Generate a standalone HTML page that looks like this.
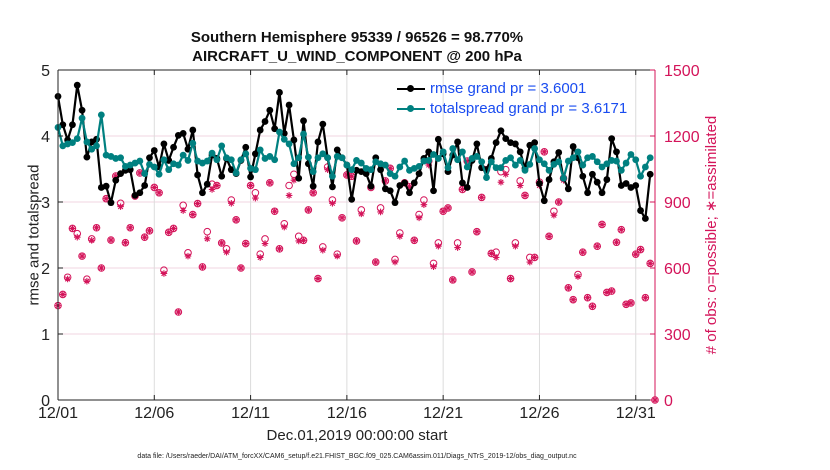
<!DOCTYPE html>
<html><head><meta charset="utf-8"><style>
body{margin:0;background:#fff;}
svg{display:block;font-family:"Liberation Sans",sans-serif;}
</style></head><body>
<svg id="chart" width="830" height="470"></svg>
<script>
const rmse=[4.6,4.17,3.94,4.17,4.77,4.39,3.68,3.91,3.95,3.22,3.24,2.99,3.33,3.43,3.48,3.49,3.1,3.14,3.25,3.67,3.78,3.53,3.88,3.63,3.83,4.01,4.04,3.8,4.09,3.41,3.14,3.27,
3.71,3.66,3.39,3.66,3.49,3.43,3.63,3.83,3.38,3.73,4.09,4.22,4.39,4.11,4.66,4.04,4.47,3.94,3.36,4.23,3.58,3.24,3.91,4.18,3.67,3.23,3.79,3.67,3.56,3.04,3.48,
3.46,3.43,3.24,3.67,3.49,3.2,3.17,2.99,3.25,3.29,3.14,3.29,3.43,3.66,3.76,3.17,3.95,3.73,3.46,3.71,3.91,3.29,3.22,3.63,3.88,3.52,3.49,3.66,3.9,4.08,3.96,
3.9,3.88,3.76,3.51,3.86,3.9,3.28,3.02,3.34,3.61,3.75,3.36,3.2,3.84,3.67,3.39,3.14,3.42,3.3,3.14,3.34,3.96,3.76,3.25,3.28,3.22,3.25,2.87,2.75,3.42];
const spread=[4.13,3.85,3.88,3.9,3.96,4.27,3.91,3.8,3.85,4.32,3.71,3.69,3.66,3.67,3.54,3.56,3.59,3.62,3.43,3.57,3.53,3.42,3.64,3.49,3.58,3.56,3.71,3.63,3.89,3.62,3.59,3.62,
3.74,3.64,3.85,3.67,3.64,3.44,3.64,3.73,3.51,3.49,3.79,3.66,3.69,3.64,4.06,3.95,3.88,3.58,3.67,4.03,3.68,3.46,3.67,3.73,3.67,3.39,3.69,3.67,3.56,3.49,3.63,
3.59,3.51,3.49,3.61,3.58,3.56,3.43,3.39,3.53,3.62,3.48,3.51,3.54,3.62,3.63,3.72,3.66,3.76,3.52,3.81,3.64,3.76,3.53,3.66,3.69,3.61,3.37,3.61,3.52,3.52,3.63,
3.67,3.56,3.63,3.48,3.57,3.81,3.64,3.58,3.48,3.57,3.61,3.36,3.62,3.67,3.76,3.56,3.67,3.69,3.61,3.53,3.58,3.63,3.62,3.48,3.59,3.72,3.64,3.39,3.53,3.67];
const possible=[429,480,558,780,756,654,549,732,783,600,915,727,1018,894,715,783,927,1032,740,769,966,942,590,762,780,400,885,669,843,893,605,765,
981,975,714,687,909,819,600,711,975,942,663,732,987,858,687,801,975,1026,744,726,864,942,552,696,1059,909,663,828,1023,1017,723,
864,1044,966,627,873,996,1053,639,759,987,969,726,843,909,1086,621,714,858,873,546,714,957,1086,582,765,921,1047,666,672,1038,1047,
552,714,996,930,648,648,990,1128,744,858,900,1008,510,456,570,672,465,426,699,798,489,495,717,774,435,441,663,684,465,621,0];
const assimilated=[429,480,550,780,740,654,540,726,783,600,915,727,1018,879,715,783,927,1032,740,769,966,942,575,762,780,400,861,654,843,893,605,733,
957,975,714,672,894,819,600,711,975,918,648,711,987,858,687,786,930,999,723,726,864,942,552,681,1047,894,654,828,1023,1017,723,
846,1044,966,627,855,996,1053,627,744,987,969,726,828,888,1068,606,699,858,873,546,693,957,1086,582,765,921,1047,666,648,990,1026,
552,699,975,930,627,648,975,1128,744,840,900,999,510,456,561,672,465,426,699,798,489,495,717,774,435,441,663,684,465,621,0];
const dateLabels=['12/01','12/06','12/11','12/16','12/21','12/26','12/31'];
const dateDays=[0,5,10,15,20,25,30];
const leftTicks=[0,1,2,3,4,5];
const rightTicks=[0,300,600,900,1200,1500];

const X0=58,X1=655,Y0=400,Y1=70,NDAYS=31;
const PINK='#d4145a';
const xd=d=>X0+(X1-X0)*d/NDAYS;
const xi=i=>xd(i*0.25);
const yL=v=>Y0-(Y0-Y1)*v/5;
const yR=v=>Y0-(Y0-Y1)*v/1500;
const svg=document.getElementById('chart');
const NS='http://www.w3.org/2000/svg';
function mk(tag,attrs,parent){const e=document.createElementNS(NS,tag);for(const k in attrs)e.setAttribute(k,attrs[k]);(parent||svg).appendChild(e);return e;}

// gridlines
leftTicks.forEach(t=>{if(t>0&&t<5){const g=mk('line',{x1:X0,x2:X1,y1:yL(t),y2:yL(t),stroke:'#f0d6e0','stroke-width':1});

}});
dateDays.forEach(d=>{if(d>0){const g=mk('line',{x1:xd(d),x2:xd(d),y1:Y1,y2:Y0,stroke:'#dcdcdc','stroke-width':1});

}});

// obs markers
const obsG=mk('g',{});


possible.forEach((v,i)=>{const c=mk('circle',{cx:xi(i),cy:yR(v),r:3.3,fill:'none',stroke:PINK,'stroke-width':1},obsG);

});
assimilated.forEach((v,i)=>{const x=xi(i),y=yR(v),r=3.3;
const p=mk('path',{d:`M${x-r} ${y}H${x+r}M${x} ${y-r}V${y+r}M${x-r*.7} ${y-r*.7}L${x+r*.7} ${y+r*.7}M${x-r*.7} ${y+r*.7}L${x+r*.7} ${y-r*.7}`,stroke:PINK,'stroke-width':1.1,fill:'none'},obsG);

});

function series(vals,color,name){
const g=mk('g',{});


mk('polyline',{points:vals.map((v,i)=>xi(i)+','+yL(v)).join(' '),fill:'none',stroke:color,'stroke-width':2.2,'stroke-linejoin':'round'},g);
vals.forEach((v,i)=>{const c=mk('circle',{cx:xi(i),cy:yL(v),r:3.4,fill:color},g);

});}
series(rmse,'#000','rmse-line');
series(spread,'#008080','totalspread-line');

// axes
mk('line',{x1:X0,x2:X1,y1:Y1,y2:Y1,stroke:'#222','stroke-width':1});
mk('line',{x1:X0,x2:X1,y1:Y0,y2:Y0,stroke:'#222','stroke-width':1});
mk('line',{x1:X0,x2:X0,y1:Y1,y2:Y0,stroke:'#222','stroke-width':1});
mk('line',{x1:X1,x2:X1,y1:Y1,y2:Y0,stroke:PINK,'stroke-width':1});
leftTicks.forEach(t=>{mk('line',{x1:X0,x2:X0+5,y1:yL(t),y2:yL(t),stroke:'#222'});
const tx=mk('text',{x:X0-8,y:yL(t)+6,'text-anchor':'end','font-size':16,fill:'#222'});tx.textContent=t;

});
rightTicks.forEach(t=>{mk('line',{x1:X1-5,x2:X1,y1:yR(t),y2:yR(t),stroke:PINK});
const tx=mk('text',{x:X1+9,y:yR(t)+6,'font-size':16,fill:PINK});tx.textContent=t;

});
dateDays.forEach((d,k)=>{mk('line',{x1:xd(d),x2:xd(d),y1:Y0,y2:Y0-5,stroke:'#222'});mk('line',{x1:xd(d),x2:xd(d),y1:Y1,y2:Y1+5,stroke:'#222'});
const tx=mk('text',{x:xd(d),y:418,'text-anchor':'middle','font-size':16,fill:'#222'});tx.textContent=dateLabels[k];

});
</script>
<svg width="0" height="0"></svg>
<div style="position:absolute;left:0;top:0;width:830px;height:470px;pointer-events:none;font-family:'Liberation Sans',sans-serif;">
<div style="position:absolute;left:0;width:714px;top:28px;text-align:center;font-weight:bold;font-size:15px;line-height:19px;color:#111;">Southern Hemisphere 95339 / 96526 = 98.770%<br>AIRCRAFT_U_WIND_COMPONENT @ 200 hPa</div>
<div style="position:absolute;left:395px;top:79px;font-size:15px;color:#1a4cf0;line-height:20px;">
<div style="position:relative;padding-left:35px;"><span style="position:absolute;left:2px;top:9px;width:28px;height:2px;background:#000"></span><span style="position:absolute;left:12px;top:6px;width:7px;height:7px;border-radius:50%;background:#000"></span>rmse grand pr = 3.6001</div>
<div style="position:relative;padding-left:35px;"><span style="position:absolute;left:2px;top:9px;width:28px;height:2px;background:#008080"></span><span style="position:absolute;left:12px;top:6px;width:7px;height:7px;border-radius:50%;background:#008080"></span>totalspread grand pr = 3.6171</div>
</div>
<div style="position:absolute;left:34px;top:235px;transform:translate(-50%,-50%) rotate(-90deg);white-space:nowrap;font-size:15px;color:#222;">rmse and totalspread</div>
<div style="position:absolute;left:711px;top:235px;transform:translate(-50%,-50%) rotate(-90deg);white-space:nowrap;font-size:15px;color:#d4145a;"># of obs: o=possible; &#8727;=assimilated</div>
<div style="position:absolute;left:0;width:714px;top:427px;text-align:center;font-size:15px;color:#222;">Dec.01,2019 00:00:00 start</div>
<div style="position:absolute;left:0;width:714px;top:453px;text-align:center;font-size:7px;color:#222;">data file: /Users/raeder/DAI/ATM_forcXX/CAM6_setup/f.e21.FHIST_BGC.f09_025.CAM6assim.011/Diags_NTrS_2019-12/obs_diag_output.nc</div>
</div>
</body></html>
